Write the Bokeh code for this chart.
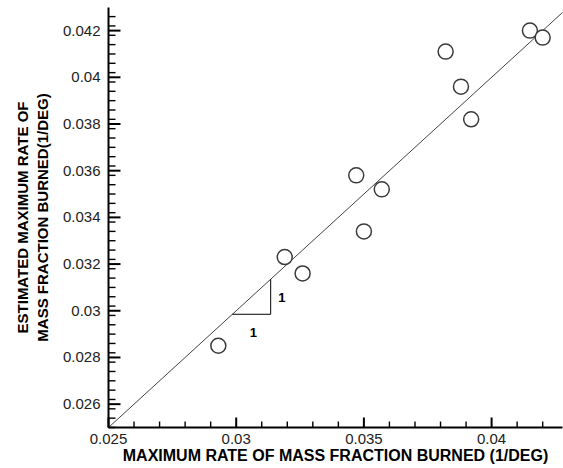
from bokeh.plotting import figure
from bokeh.models import FixedTicker, Range1d
from bokeh.core.properties import value
from bokeh.embed import file_html
from bokeh.resources import INLINE

# measured vs estimated maximum rate of mass fraction burned (1/deg)
measured = [0.0293, 0.0319, 0.0326, 0.0347, 0.0357, 0.0350, 0.0382, 0.0388, 0.0392, 0.0415, 0.0420]
estimated = [0.0285, 0.0323, 0.0316, 0.0358, 0.0352, 0.0334, 0.0411, 0.0396, 0.0382, 0.0420, 0.0417]

# parity line y = x
parity_x = [0.025, 0.043]
parity_y = [0.025, 0.043]

# slope triangle annotation
tri_x = [0.02985, 0.03135, 0.03135]
tri_y = [0.02985, 0.02985, 0.03135]
tri_lbl_x = [0.03067, 0.03179]
tri_lbl_y = [0.02908, 0.03058]
tri_lbl = ["1", "1"]

x_ticks = [0.025, 0.03, 0.035, 0.04]
x_tick_labels = ["0.025", "0.03", "0.035", "0.04"]
y_ticks = [0.026, 0.028, 0.03, 0.032, 0.034, 0.036, 0.038, 0.04, 0.042]
y_tick_labels = ["0.026", "0.028", "0.03", "0.032", "0.034", "0.036", "0.038", "0.04", "0.042"]
x_minor = [round(0.025 + 0.001 * i, 6) for i in range(18)]
y_minor = [round(0.025 + 0.0004 * i, 6) for i in range(45)]

X0, X1 = 0.025, 0.042776
Y0, Y1 = 0.025, 0.04299
W, H = 563, 468
BL, BB, BT, BR = 108, 41, 7, 1
fw, fh = W - BL - BR, H - BB - BT
dx = (X1 - X0) / fw   # data per pixel, x
dy = (Y1 - Y0) / fh   # data per pixel, y

p = figure(width=W, height=H, output_backend="svg", toolbar_location=None,
           x_range=Range1d(X0, X1), y_range=Range1d(Y0, Y1),
           min_border_left=BL, min_border_bottom=BB, min_border_top=BT, min_border_right=BR)
p.outline_line_color = None
p.xgrid.visible = False
p.ygrid.visible = False
p.background_fill_color = "white"

p.line(parity_x, parity_y, line_color="#444444", line_width=1)
p.line(tri_x, tri_y, line_color="black", line_width=1)
p.text(tri_lbl_x, tri_lbl_y, text=tri_lbl, text_font=value("Liberation Sans"),
       text_font_style="bold", text_font_size="13px", text_align="center",
       text_baseline="middle", text_color="black")
p.scatter(measured, estimated, marker="circle", size=15, fill_color="white",
          line_color="#3a3a3a", line_width=1.5)

# inward tick marks as small filled bars, drawn on top
x_min_only = [t for t in x_minor if all(abs(t - m) > 1e-9 for m in x_ticks)]
y_min_only = [t for t in y_minor if all(abs(t - m) > 1e-9 for m in y_ticks)]
p.quad(left=[t - 1.0 * dx for t in x_ticks], right=[t + 1.0 * dx for t in x_ticks],
       bottom=[Y0] * len(x_ticks), top=[Y0 + 10 * dy] * len(x_ticks),
       fill_color="black", line_color=None, level="overlay")
p.quad(left=[t - 0.7 * dx for t in x_min_only], right=[t + 0.7 * dx for t in x_min_only],
       bottom=[Y0] * len(x_min_only), top=[Y0 + 6 * dy] * len(x_min_only),
       fill_color="black", line_color=None, level="overlay")
p.quad(left=[X0] * len(y_ticks), right=[X0 + 12 * dx] * len(y_ticks),
       bottom=[t - 1.0 * dy for t in y_ticks], top=[t + 1.0 * dy for t in y_ticks],
       fill_color="black", line_color=None, level="overlay")
p.quad(left=[X0] * len(y_min_only), right=[X0 + 7 * dx] * len(y_min_only),
       bottom=[t - 0.7 * dy for t in y_min_only], top=[t + 0.7 * dy for t in y_min_only],
       fill_color="black", line_color=None, level="overlay")

for ax, ticks, labels in ((p.xaxis[0], x_ticks, x_tick_labels),
                          (p.yaxis[0], y_ticks, y_tick_labels)):
    ax.ticker = FixedTicker(ticks=ticks, minor_ticks=[])
    ax.major_label_overrides = {t: l for t, l in zip(ticks, labels)}
    ax.axis_line_width = 2
    ax.axis_line_color = "black"
    ax.major_tick_in = 0
    ax.major_tick_out = 0
    ax.minor_tick_in = 0
    ax.minor_tick_out = 0
    ax.major_label_text_font = "Liberation Sans"
    ax.major_label_text_font_size = "15px"
    ax.major_label_text_color = "#222222"
    ax.axis_label_text_font = "Liberation Sans"
    ax.axis_label_text_font_style = "bold"
    ax.axis_label_text_color = "black"

p.xaxis[0].axis_label = "MAXIMUM RATE OF MASS FRACTION BURNED (1/DEG)"
p.xaxis[0].axis_label_text_font_size = "16px"
p.xaxis[0].major_label_standoff = 6
p.xaxis[0].axis_label_standoff = 0
p.yaxis[0].axis_label = "ESTIMATED MAXIMUM RATE OF\nMASS FRACTION BURNED(1/DEG)"
p.yaxis[0].axis_label_text_font_size = "15px"
p.yaxis[0].major_label_standoff = 8
p.yaxis[0].axis_label_standoff = 9

open("out.html", "w").write(file_html(p, INLINE))
